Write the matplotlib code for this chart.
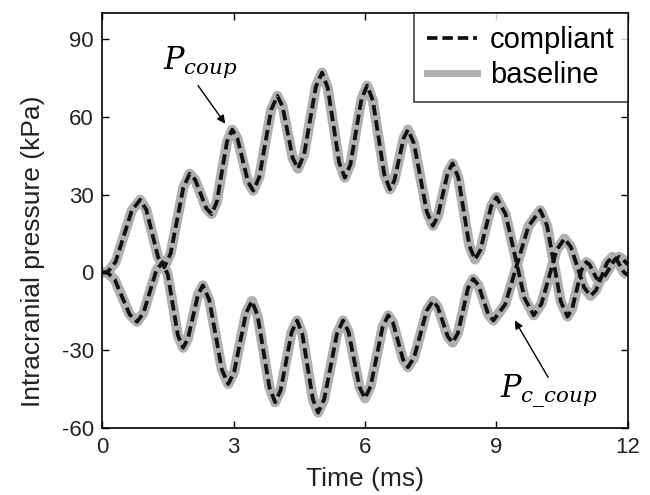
import matplotlib
matplotlib.use("Agg")
import matplotlib.pyplot as plt

plt.rcParams['font.family'] = ['Liberation Sans', 'DejaVu Sans']
plt.rcParams['mathtext.fontset'] = 'dejavuserif'
plt.rcParams['axes.unicode_minus'] = False

# coup pressure (ms, kPa); compliant and baseline overlap
t_coup = [0.0, 0.06, 0.12, 0.31, 0.495, 0.68, 0.87, 1.01, 1.145, 1.28, 1.42,
          1.565, 1.71, 1.855, 2.0, 2.125, 2.25, 2.375, 2.5, 2.62, 2.735, 2.85,
          2.97, 3.09, 3.21, 3.33, 3.45, 3.59, 3.725, 3.86, 4.0, 4.12, 4.235,
          4.35, 4.47, 4.61, 4.745, 4.88, 5.02, 5.15, 5.28, 5.41, 5.54, 5.67,
          5.795, 5.92, 6.05, 6.18, 6.31, 6.44, 6.57, 6.67, 6.775, 6.88, 6.98,
          7.12, 7.265, 7.41, 7.55, 7.66, 7.775, 7.89, 8.0, 8.13, 8.255, 8.38,
          8.51, 8.63, 8.755, 8.88, 9.0, 9.21, 9.425, 9.64, 9.85, 10.025, 10.2,
          10.375, 10.55, 10.7, 10.85, 11.0, 11.15, 11.275, 11.4, 11.525,
          11.65, 11.74, 11.825, 11.91, 12.0]
p_coup = [0, 0, 0, 4.1, 14, 23.9, 28, 24.2, 15, 5.8, 2,
          7.3, 20, 32.7, 38, 35.7, 30.3, 24.8, 22.5, 27.2, 38.8, 50.3,
          55, 51.6, 43.3, 34.9, 31.5, 36.8, 49.8, 62.7, 68, 63.9, 54,
          44.1, 40, 45.4, 58.5, 71.6, 77, 71.1, 56.8, 42.4, 36.5, 41.7,
          54.3, 66.8, 72, 66.2, 52, 37.8, 32, 35.4, 43.5, 51.6, 55,
          49.6, 36.5, 23.4, 18, 21.5, 30, 38.5, 42, 36.6, 23.5, 10.4,
          5, 8.5, 17, 25.5, 29, 22.4, 6.3, -9.9, -16.5, -12.2, -1.8,
          8.7, 13, 9.8, 2, -5.8, -9, -6.8, -1.5, 3.8,
          6, 5, 2.5, 0, -1]

# contrecoup pressure
t_ccoup = [0.0, 0.06, 0.12, 0.29, 0.46, 0.63, 0.8, 0.945, 1.09, 1.235, 1.38,
           1.5, 1.615, 1.73, 1.85, 1.96, 2.075, 2.19, 2.3, 2.445, 2.59, 2.735,
           2.88, 3.015, 3.15, 3.285, 3.42, 3.55, 3.685, 3.82, 3.95, 4.075, 4.2,
           4.325, 4.45, 4.57, 4.69, 4.81, 4.93, 5.07, 5.215, 5.36, 5.5, 5.625,
           5.75, 5.875, 6.0, 6.13, 6.265, 6.4, 6.53, 6.64, 6.755, 6.87, 6.98,
           7.12, 7.265, 7.41, 7.55, 7.66, 7.775, 7.89, 8.0, 8.12, 8.235, 8.35,
           8.47, 8.585, 8.7, 8.815, 8.93, 9.2, 9.465, 9.73, 10.0, 10.155,
           10.31, 10.465, 10.62, 10.73, 10.835, 10.94, 11.05, 11.125, 11.2,
           11.275, 11.35, 11.46, 11.575, 11.69, 11.8, 11.9, 12.0]
p_ccoup = [0, 0, 0, -2.8, -9.5, -16.2, -19, -15.6, -7.5, 0.6, 4,
           -0.8, -12.5, -24.2, -29, -25.5, -17, -8.5, -5, -10.5, -24, -37.5,
           -43, -38.3, -27, -15.7, -11, -16.7, -30.5, -44.3, -50, -45.4, -34.3,
           -23.1, -18.5, -23.7, -36.3, -48.8, -54, -48.8, -36.3, -23.7, -18.5, -22.9,
           -33.5, -44.1, -48.5, -43.8, -32.5, -21.2, -16.5, -19.4, -26.5, -33.6, -36.5,
           -32.8, -23.8, -14.7, -11, -13.3, -19, -24.7, -27, -23.4, -14.8, -6.1,
           -2.5, -4.8, -10.5, -16.2, -18.5, -12.3, 2.8, 17.8, 24, 18,
           3.5, -11, -17, -13.9, -6.5, 0.9, 4, 3, 0.5,
           -2, -3, -1.7, 1.5, 4.7, 6, 4.8, 3]

fig = plt.figure(figsize=(6.5, 4.95), dpi=100)
ax = fig.add_axes([0.157, 0.135, 0.809, 0.839])

gray = '#b0b0b0'
dash = (2.8, 1.3)
for t, p in [(t_coup, p_coup), (t_ccoup, p_ccoup)]:
    ax.plot(t, p, color=gray, lw=7.3, solid_capstyle='butt', zorder=2)
for t, p in [(t_coup, p_coup), (t_ccoup, p_ccoup)]:
    ax.plot(t, p, color='#111111', lw=2.7, dashes=dash, zorder=3)

# legend proxies
ax.plot([], [], color='#111111', lw=2.7, dashes=dash, label='compliant')
ax.plot([], [], color=gray, lw=5, label='baseline')
leg = ax.legend(loc='upper right', fontsize=21, frameon=True, fancybox=False,
                edgecolor='black', borderaxespad=0, handlelength=1.7,
                handletextpad=0.45, labelspacing=0.25, borderpad=0.45)
leg.get_frame().set_linewidth(1.1)

ax.text(1.39, 78.5, '$P_{coup}$', fontsize=22, va='baseline')
ax.annotate('', xy=(2.81, 57.3), xytext=(2.19, 72),
            arrowprops=dict(arrowstyle='-|>', color='black', lw=1,
                            mutation_scale=12, shrinkA=0, shrinkB=0))
ax.text(9.08, -48, r'$P_{c\_coup}$', fontsize=22, va='baseline')
ax.annotate('', xy=(9.42, -18.5), xytext=(10.18, -40.4),
            arrowprops=dict(arrowstyle='-|>', color='black', lw=1,
                            mutation_scale=12, shrinkA=0, shrinkB=0))

ax.set_xlim(0, 12)
ax.set_ylim(-60, 100)
ax.set_xticks([0, 3, 6, 9, 12])
ax.set_yticks([-60, -30, 0, 30, 60, 90])
ax.tick_params(direction='in', top=True, right=True, length=5, width=1,
               labelsize=16, pad=6, labelcolor='#222222')
for s in ax.spines.values():
    s.set_linewidth(1.2)

ax.set_xlabel('Time (ms)', fontsize=19, labelpad=7, color='#222222')
ax.set_ylabel('Intracranial pressure (kPa)', fontsize=19, color='#222222')
ax.yaxis.set_label_coords(-0.108, 0.427)

fig.savefig('out.png', dpi=100)
